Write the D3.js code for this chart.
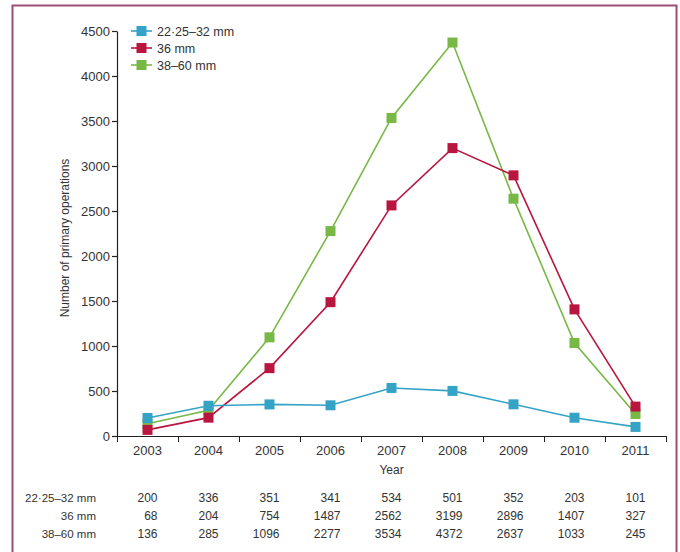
<!DOCTYPE html>
<html>
<head>
<meta charset="utf-8">
<script src="https://cdn.jsdelivr.net/npm/d3@7"></script>
<style>
body { margin: 0; background: #fff; }
svg text { font-family: "Liberation Sans", Arial, sans-serif; fill: #333; }
</style>
</head>
<body>
<div id="chart"></div>
<script>
var years = ["2003", "2004", "2005", "2006", "2007", "2008", "2009", "2010", "2011"];
var seriesNames = ["22\u00b725\u201332 mm", "36 mm", "38\u201360 mm"];
var small = [200, 336, 351, 341, 534, 501, 352, 203, 101];
var mid = [68, 204, 754, 1487, 2562, 3199, 2896, 1407, 327];
var large = [136, 285, 1096, 2277, 3534, 4372, 2637, 1033, 245];
var yTicks = [0, 500, 1000, 1500, 2000, 2500, 3000, 3500, 4000, 4500];
var colors = ["#35a3c6", "#b8153f", "#78b846"];

var width = 680;
var height = 552;
var plotLeft = 117, plotRight = 666, plotTop = 31, plotBottom = 436;

var svg = d3.select("#chart")
.append("svg")
.attr("width", width)
.attr("height", height);

// frame round the figure
svg.append("rect")
.attr("x", 12.5)
.attr("y", 5.5)
.attr("width", 664)
.attr("height", 560)
.attr("fill", "none")
.attr("stroke", "#9c4f74")
.attr("stroke-width", 2);

var x_scale = d3.scaleBand().domain(years).range([plotLeft, plotRight]);
var y_scale = d3.scaleLinear().domain([0, 4500]).range([plotBottom, plotTop]);

// y axis
var yAxis = d3.axisLeft(y_scale)
.tickValues(yTicks)
.tickFormat(d3.format("d"))
.tickSize(5)
.tickSizeOuter(0);
var gy = svg.append("g")
.attr("transform", "translate(" + plotLeft + ",0)")
.call(yAxis);
gy.selectAll("text").attr("font-size", 13).attr("x", -7).attr("font-family", null);
gy.selectAll("line, path").attr("stroke", "#222").attr("stroke-width", 1.2);

// x axis, ticks on band edges
var gx = svg.append("g").attr("transform", "translate(0," + plotBottom + ")");
gx.append("line")
.attr("x1", plotLeft).attr("x2", plotRight)
.attr("y1", 0.5).attr("y2", 0.5)
.attr("stroke", "#222")
.attr("stroke-width", 1.2);
var edges = years.map(function(d){ return x_scale(d); }).concat([plotRight]);
gx.selectAll(".edge").data(edges).enter()
.append("line")
.attr("class", "edge")
.attr("x1", function(d){ return Math.round(d) + 0.5; })
.attr("x2", function(d){ return Math.round(d) + 0.5; })
.attr("y1", 0).attr("y2", 6)
.attr("stroke", "#222");
gx.selectAll(".yr").data(years).enter()
.append("text")
.attr("x", function(d){ return x_scale(d) + x_scale.bandwidth()/2; })
.attr("y", 19)
.attr("text-anchor", "middle")
.attr("font-size", 13)
.text(function(d){ return d; });

svg.append("text")
.attr("x", (plotLeft + plotRight)/2)
.attr("y", 474)
.attr("text-anchor", "middle")
.attr("font-size", 12)
.text("Year");

svg.append("text")
.attr("transform", "translate(69,238)rotate(-90)")
.attr("text-anchor", "middle")
.attr("font-size", 12)
.text("Number of primary operations");

// lines and markers
var allSeries = [small, mid, large];
var line = d3.line()
.x(function(d, i){ return x_scale(years[i]) + x_scale.bandwidth()/2; })
.y(function(d){ return y_scale(d); });

[2, 1, 0].forEach(function(k){
    svg.append("path")
    .datum(allSeries[k])
    .attr("d", line)
    .attr("fill", "none")
    .attr("stroke", colors[k])
    .attr("stroke-width", 1.6);
});
[2, 1, 0].forEach(function(k){
    svg.selectAll(".m" + k).data(allSeries[k]).enter()
    .append("rect")
    .attr("x", function(d, i){ return x_scale(years[i]) + x_scale.bandwidth()/2 - 5; })
    .attr("y", function(d){ return y_scale(d) - 5; })
    .attr("width", 10).attr("height", 10)
    .attr("fill", colors[k]);
});

// legend
var legend = svg.append("g").attr("transform", "translate(131,31)");
seriesNames.forEach(function(name, k){
    var g = legend.append("g").attr("transform", "translate(0," + (k*17) + ")");
    g.append("line").attr("x1", 0).attr("x2", 21).attr("stroke", colors[k]).attr("stroke-width", 1.6);
    g.append("rect").attr("x", 5.5).attr("y", -5).attr("width", 10).attr("height", 10).attr("fill", colors[k]);
    g.append("text").attr("x", 26).attr("y", 4.5).attr("font-size", 12.5).text(name);
});

// table under the chart
var table = svg.append("g");
allSeries.forEach(function(vals, k){
    var ty = 502 + k*18;
    table.append("text")
    .attr("x", 96).attr("y", ty)
    .attr("text-anchor", "end")
    .attr("font-size", 11.5)
    .text(seriesNames[k]);
    table.selectAll(".t" + k).data(vals).enter()
    .append("text")
    .attr("x", function(d, i){ return x_scale(years[i]) + x_scale.bandwidth()/2 + 10; })
    .attr("y", ty)
    .attr("text-anchor", "end")
    .attr("font-size", 12)
    .text(function(d){ return d; });
});
</script>
</body>
</html>
